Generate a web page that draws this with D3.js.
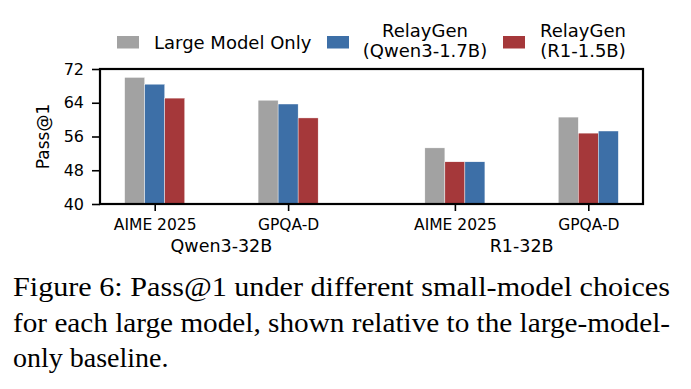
<!DOCTYPE html>
<html>
<head>
<meta charset="utf-8">
<script src="https://cdn.jsdelivr.net/npm/d3@7/dist/d3.min.js"></script>
<style>
  body { margin: 0; background: #fff; }
  text { font-family: "DejaVu Sans", sans-serif; fill: #000; }
  text.caption { font-family: "Liberation Serif", "Times New Roman", serif; }
</style>
</head>
<body>
<script>
// data
const categories = ["AIME 2025", "GPQA-D", "AIME 2025", "GPQA-D"];
const groupNames = ["Qwen3-32B", "R1-32B"];
const categoryGroup = [0, 0, 1, 1];
const categoryPos = [0, 1, 2.25, 3.25];

const largeOnly = [70.0, 64.6, 53.3, 60.6];
const relayQwen = [68.4, 63.7, 50.0, 57.3];
const relayR1 = [65.1, 60.4, 50.0, 56.8];

const yTicks = [40, 48, 56, 64, 72];

const seriesNames = ["Large Model Only", "RelayGen\n(Qwen3-1.7B)", "RelayGen\n(R1-1.5B)"];
const seriesColors = ["#a2a2a2", "#3d6fa7", "#a5383a"];
// the matching small model sits next to the baseline bar in each group
const groupOrder = [[0, 1, 2], [0, 2, 1]];

const seriesValues = [largeOnly, relayQwen, relayR1];

const W = 691, H = 389;
const plot = { left: 100, right: 643, top: 69, bottom: 204 };
const barW = 0.15;

const svg = d3.select("body").append("svg")
  .attr("width", W)
  .attr("height", H);

svg.append("rect").attr("width", W).attr("height", H).attr("fill", "#fff");

const x = d3.scaleLinear().domain([-0.41, 3.66]).range([plot.left, plot.right]);
const y = d3.scaleLinear().domain([40, 72]).range([plot.bottom, plot.top]);

// bars
const bars = [];
categories.forEach((c, i) => {
  const order = groupOrder[categoryGroup[i]];
  order.forEach((s, slot) => {
    bars.push({ cat: i, series: s, slot: slot, value: seriesValues[s][i] });
  });
});

svg.append("g").selectAll("rect")
  .data(bars)
  .enter()
  .append("rect")
  .attr("x", d => x(categoryPos[d.cat] + (d.slot - 1.5) * barW))
  .attr("width", x(barW) - x(0))
  .attr("y", d => y(d.value))
  .attr("height", d => y(40) - y(d.value))
  .attr("fill", d => seriesColors[d.series])
  .attr("stroke", "#fff")
  .attr("stroke-width", 0.4);

// axes
const xAxis = d3.axisBottom(x)
  .tickValues(categoryPos)
  .tickFormat((d, i) => categories[i])
  .tickSize(7)
  .tickPadding(8)
  .tickSizeOuter(0);

const gx = svg.append("g")
  .attr("transform", `translate(0,${plot.bottom})`)
  .call(xAxis);
gx.select(".domain").remove();
gx.selectAll("line").attr("stroke", "#000").attr("stroke-width", 1.6);
gx.selectAll("text").style("font-size", "15.5px").attr("dy", "0.71em");

const yAxis = d3.axisLeft(y)
  .tickValues(yTicks)
  .tickSize(8)
  .tickPadding(8)
  .tickSizeOuter(0);

const gy = svg.append("g")
  .attr("transform", `translate(${plot.left},0)`)
  .call(yAxis);
gy.select(".domain").remove();
gy.selectAll("line").attr("stroke", "#000").attr("stroke-width", 1.6);
gy.selectAll("text").style("font-size", "16px");

// frame
svg.append("rect")
  .attr("x", plot.left)
  .attr("y", plot.top)
  .attr("width", plot.right - plot.left)
  .attr("height", plot.bottom - plot.top)
  .attr("fill", "none")
  .attr("stroke", "#000")
  .attr("stroke-width", 2.2);

// group labels under the ticks
groupNames.forEach((g, gi) => {
  const ps = categoryPos.filter((p, i) => categoryGroup[i] === gi);
  svg.append("text")
    .attr("x", x(d3.mean(ps)))
    .attr("y", 251.5)
    .attr("text-anchor", "middle")
    .style("font-size", "17.5px")
    .text(g);
});

// y label
svg.append("text")
  .attr("transform", `translate(49,${(plot.top + plot.bottom) / 2}) rotate(-90)`)
  .attr("text-anchor", "middle")
  .style("font-size", "17px")
  .text("Pass@1");

// legend
const legendX = [117, 327, 503];
const legendTextX = [154, 425, 583];
seriesNames.forEach((name, i) => {
  svg.append("rect")
    .attr("x", legendX[i])
    .attr("y", 36)
    .attr("width", 22)
    .attr("height", 12.5)
    .attr("fill", seriesColors[i]);
  const lines = name.split("\n");
  const t = svg.append("text")
    .style("font-size", "18px")
    .attr("text-anchor", lines.length > 1 ? "middle" : "start");
  if (lines.length === 1) {
    t.attr("x", legendTextX[i]).attr("y", 49).text(lines[0]);
  } else {
    lines.forEach((l, j) => {
      t.append("tspan")
        .attr("x", legendTextX[i])
        .attr("y", 36.7 + j * 20.6)
        .text(l);
    });
  }
});

// caption
const captionLines = [
  "Figure 6: Pass@1 under different small-model choices",
  "for each large model, shown relative to the large-model-",
  "only baseline."
];
captionLines.forEach((l, i) => {
  const t = svg.append("text")
    .attr("class", "caption")
    .attr("x", 13)
    .attr("y", 296 + i * 35.7)
    .style("font-size", "28px")
    .text(l);
  if (i < 2) t.attr("textLength", 657).attr("lengthAdjust", "spacingAndGlyphs");
});
</script>
</body>
</html>
